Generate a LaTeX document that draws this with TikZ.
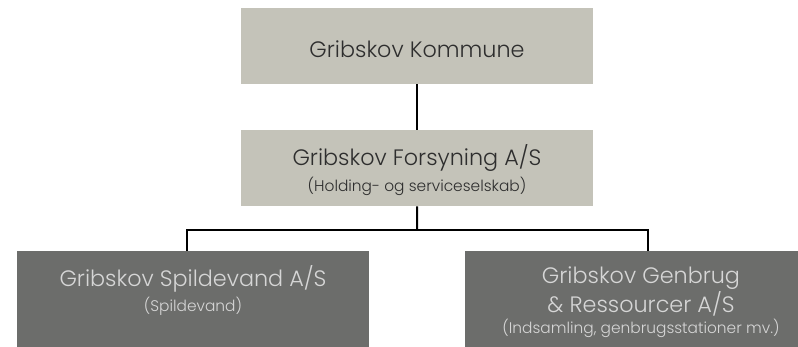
\documentclass[tikz,border=0pt]{standalone}
\usepackage{fontspec}
\setmainfont{Poppins}[UprightFont=* Light]
\definecolor{boxlight}{HTML}{C4C3B9}
\definecolor{boxdark}{HTML}{6C6D6B}
\definecolor{txtdark}{HTML}{2E2E2E}
\definecolor{txtlight}{HTML}{D6D6D6}
\tikzset{
  lightbox/.style={fill=boxlight, draw=none, minimum width=352pt, inner sep=0pt, text=txtdark, align=center},
  darkbox/.style={fill=boxdark, draw=none, minimum width=352pt, inner sep=0pt, text=txtlight, align=center},
  conn/.style={line width=2pt, black},
  maintxt/.style={font=\fontsize{22.3}{26}\selectfont},
  subtxt/.style={font=\fontsize{15.4}{18}\selectfont},
}
\begin{document}
\begin{tikzpicture}[x=1pt,y=1pt]
\useasboundingbox (0,0) rectangle (798,346);
\begin{scope}
\clip (0,0) rectangle (798,346);
% boxes
\node[lightbox, minimum height=76pt, anchor=north west] (kom) at (241,346-8) {};
\node[lightbox, minimum height=76pt, anchor=north west] (fors) at (241,346-130) {};
\node[darkbox, minimum height=100pt, anchor=north west] (spil) at (17,346-251) {};
\node[darkbox, minimum height=100pt, anchor=north west] (genb) at (465,346-251) {};
% texts
\node[maintxt, text=txtdark, anchor=base] (t1) at (417,346-58) {Gribskov Kommune};
\node[maintxt, text=txtdark, anchor=base] (t2) at (417,346-165) {Gribskov Forsyning A/S};
\node[subtxt, text=txtdark, anchor=base] (t2s) at (417,346-192) {(Holding- og serviceselskab)};
\node[maintxt, text=txtlight, anchor=base] (t3) at (193,346-286) {Gribskov Spildevand A/S};
\node[subtxt, text=txtlight, anchor=base] (t3s) at (193,346-311) {(Spildevand)};
\node[maintxt, text=txtlight, anchor=base] (t4) at (641,346-283) {Gribskov Genbrug};
\node[maintxt, text=txtlight, anchor=base] (t4b) at (641,346-312) {\& Ressourcer A/S};
\node[subtxt, text=txtlight, anchor=base] (t4s) at (641,346-333) {(Indsamling, genbrugsstationer mv.)};
\end{scope}
% connectors
\coordinate (bus) at (417,346-230);
\draw[conn] (kom.south) -- (fors.north);
\draw[conn] (fors.south) -- (bus);
\draw[conn] (bus) -| ([xshift=-6pt]spil.north);
\draw[conn] (bus) -| ([xshift=7pt]genb.north);
\end{tikzpicture}
\end{document}
